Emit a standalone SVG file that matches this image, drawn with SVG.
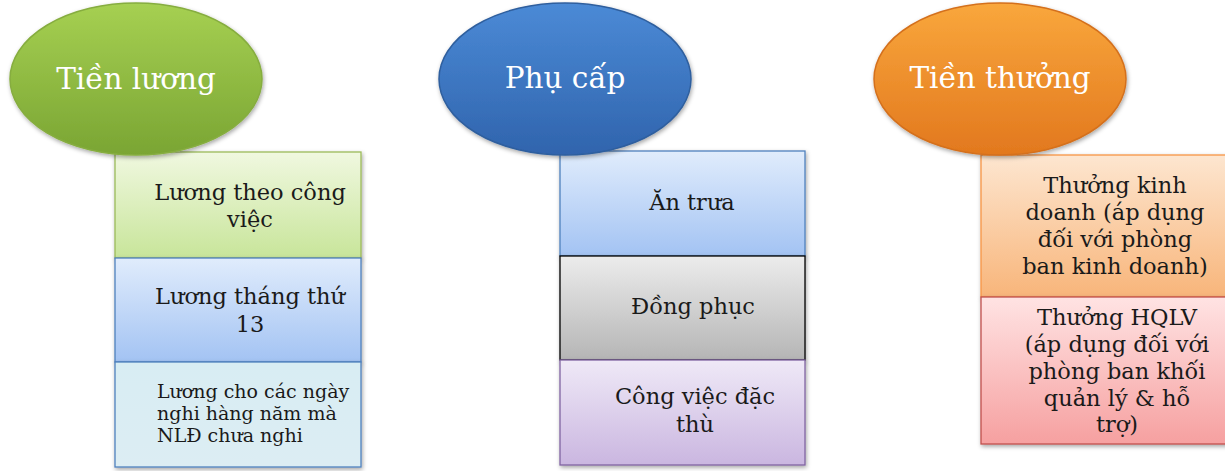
<svg xmlns="http://www.w3.org/2000/svg" width="1225" height="471" viewBox="0 0 1225 471">
<defs>
<linearGradient id="gEl" x1="0" y1="0" x2="0" y2="1"><stop offset="0" stop-color="#a6d052"/><stop offset="1" stop-color="#7aa533"/></linearGradient>
<linearGradient id="bEl" x1="0" y1="0" x2="0" y2="1"><stop offset="0" stop-color="#4b8ad6"/><stop offset="1" stop-color="#3064ad"/></linearGradient>
<linearGradient id="oEl" x1="0" y1="0" x2="0" y2="1"><stop offset="0" stop-color="#f9a73c"/><stop offset="1" stop-color="#e2781e"/></linearGradient>
<linearGradient id="gBx" x1="0" y1="0" x2="0" y2="1"><stop offset="0" stop-color="#f0f8e0"/><stop offset="1" stop-color="#c8e59a"/></linearGradient>
<linearGradient id="bBx" x1="0" y1="0" x2="0" y2="1"><stop offset="0" stop-color="#e0ecfc"/><stop offset="1" stop-color="#a3c3f3"/></linearGradient>
<linearGradient id="cBx" x1="0" y1="0" x2="0" y2="1"><stop offset="0" stop-color="#d8edf3"/><stop offset="1" stop-color="#dcedf3"/></linearGradient>
<linearGradient id="kBx" x1="0" y1="0" x2="0" y2="1"><stop offset="0" stop-color="#ececec"/><stop offset="1" stop-color="#b5b5b5"/></linearGradient>
<linearGradient id="pBx" x1="0" y1="0" x2="0" y2="1"><stop offset="0" stop-color="#efe9f7"/><stop offset="1" stop-color="#cab6e0"/></linearGradient>
<linearGradient id="oBx" x1="0" y1="0" x2="0" y2="1"><stop offset="0" stop-color="#fde6d0"/><stop offset="1" stop-color="#f8b57a"/></linearGradient>
<linearGradient id="rBx" x1="0" y1="0" x2="0" y2="1"><stop offset="0" stop-color="#ffe3e3"/><stop offset="1" stop-color="#f6a0a0"/></linearGradient>
<filter id="sh" x="-10%" y="-10%" width="130%" height="130%"><feDropShadow dx="1" dy="2" stdDeviation="2" flood-color="#000" flood-opacity="0.35"/></filter>
</defs>
<style>
.el{stroke-width:1.5;filter:url(#sh)}
.bx{stroke-width:1.3;filter:url(#sh)}
.t{font-family:"DejaVu Serif","Liberation Serif",serif;fill:#1a1a1a;font-size:22.5px;text-anchor:middle}
.s{font-size:19px;text-anchor:start}
.h{font-family:"DejaVu Serif","Liberation Serif",serif;fill:#ffffff;font-size:29.5px;text-anchor:middle}
</style>
<g id="connectors"></g>
<g id="col1-box1"><rect class="bx" x="115" y="152" width="246" height="106" fill="url(#gBx)" stroke="#9bbb59"/>
<text class="t" x="250" y="200">Lương theo công</text><text class="t" x="250" y="227">việc</text></g>
<g id="col1-box2"><rect class="bx" x="115" y="258" width="246" height="104" fill="url(#bBx)" stroke="#4f81bd"/>
<text class="t" x="250" y="304">Lương tháng thứ</text><text class="t" x="250" y="332">13</text></g>
<g id="col1-box3"><rect class="bx" x="115" y="362" width="246" height="105" fill="url(#cBx)" stroke="#4f81bd"/>
<text class="t s" x="157" y="398">Lương cho các ngày</text><text class="t s" x="157" y="420">nghi hàng năm mà</text><text class="t s" x="157" y="442">NLĐ chưa nghi</text></g>
<g id="col2-box1"><rect class="bx" x="560" y="151" width="245" height="105" fill="url(#bBx)" stroke="#4f81bd"/>
<text class="t" x="692" y="210">Ăn trưa</text></g>
<g id="col2-box2"><rect class="bx" x="560" y="256" width="245" height="104" fill="url(#kBx)" stroke="#000000"/>
<text class="t" x="693" y="314">Đồng phục</text></g>
<g id="col2-box3"><rect class="bx" x="560" y="360" width="245" height="105" fill="url(#pBx)" stroke="#8064a2"/>
<text class="t" x="695" y="404">Công việc đặc</text><text class="t" x="695" y="432">thù</text></g>
<g id="col3-box1"><rect class="bx" x="981" y="155" width="250" height="142" fill="url(#oBx)" stroke="#f79646"/>
<text class="t" x="1115" y="193">Thưởng kinh</text><text class="t" x="1115" y="220">doanh (áp dụng</text><text class="t" x="1115" y="247">đối với phòng</text><text class="t" x="1115" y="274">ban kinh doanh)</text></g>
<g id="col3-box2"><rect class="bx" x="981" y="297" width="250" height="147" fill="url(#rBx)" stroke="#c0504d"/>
<text class="t" x="1117" y="325">Thưởng HQLV</text><text class="t" x="1117" y="352">(áp dụng đối với</text><text class="t" x="1117" y="379">phòng ban khối</text><text class="t" x="1117" y="406">quản lý &amp; hỗ</text><text class="t" x="1117" y="432">trợ)</text></g>
<g id="tien-luong"><ellipse class="el" cx="136" cy="79" rx="126" ry="76" fill="url(#gEl)" stroke="#86ad3f"/>
<text class="h" x="136" y="89">Tiền lương</text></g>
<g id="phu-cap"><ellipse class="el" cx="565" cy="79" rx="126" ry="76" fill="url(#bEl)" stroke="#2f5f9e"/>
<text class="h" x="565" y="88">Phụ cấp</text></g>
<g id="tien-thuong"><ellipse class="el" cx="1000" cy="79" rx="126" ry="76" fill="url(#oEl)" stroke="#d4701c"/>
<text class="h" x="1000" y="88">Tiền thưởng</text></g>
</svg>
